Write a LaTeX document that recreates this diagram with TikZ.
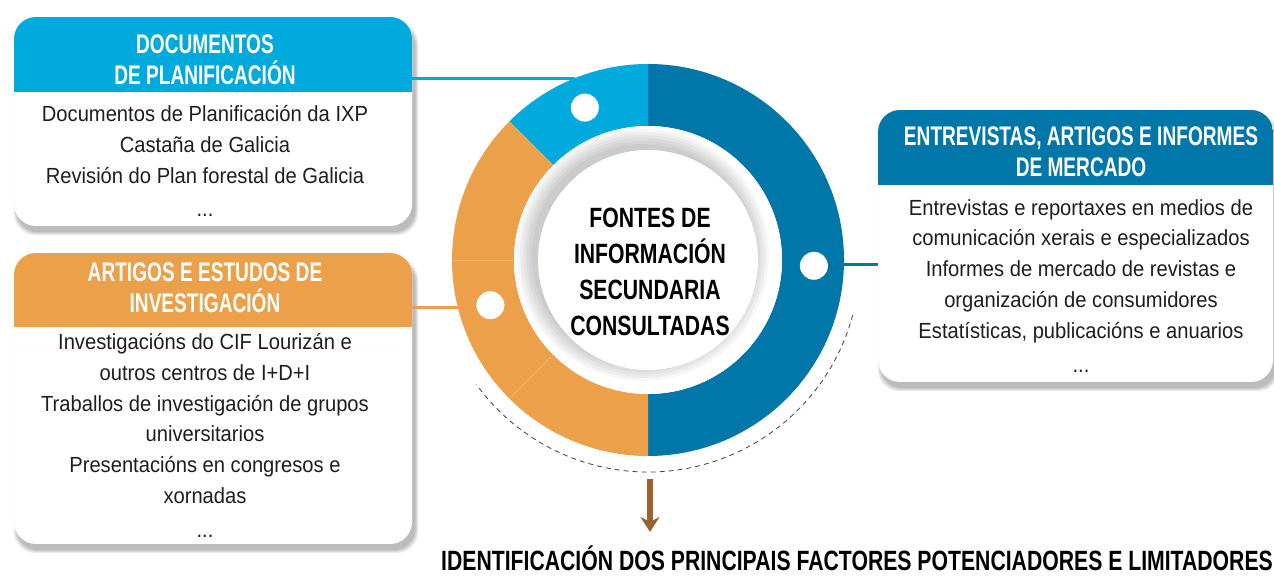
\documentclass[tikz,border=0pt]{standalone}
\usepackage{fontspec}
\setmainfont{Liberation Sans}
\newfontfamily\bodyfont{Liberation Sans}[FakeStretch=0.92]
\newfontfamily\headfont{Liberation Sans}[FakeStretch=0.71]
\newfontfamily\titfont{Liberation Sans}[FakeStretch=0.76]
\usetikzlibrary{arrows.meta,calc}

\definecolor{azul}{HTML}{00AADC}
\definecolor{azulosc}{HTML}{0077A8}
\definecolor{laranxa}{HTML}{ECA04A}
\definecolor{marron}{HTML}{9A6131}
\definecolor{texto}{HTML}{1E1E1E}

\tikzset{
  cabeza/.style={text=white, font=\headfont\bfseries\fontsize{27}{31}\selectfont, align=center, inner sep=0pt},
  corpo/.style={text=texto, font=\bodyfont\fontsize{22}{31}\selectfont, align=center, inner sep=0pt},
  punto/.style={circle, fill=white, minimum size=28bp, inner sep=0pt},
  ligazon/.style={line width=3bp},
}

% caixa: nome, x1, y1, x2, y2, y da cabeceira, cor
\newcommand\caixa[7]{%
  \foreach \s in {0,...,7}
    \fill[black,opacity=0.035,rounded corners=22bp] (#2+3-\s/2,#3-6-\s/2) rectangle (#4+3+\s/2,#5-8+\s/2);
  \node[fill=white, rounded corners=22bp, outer sep=0pt, inner sep=0pt,
        minimum width={(#4-#2)*1bp}, minimum height={(#5-#3)*1bp}] (#1) at ({(#2+#4)/2},{(#3+#5)/2}) {};
  \begin{scope}
    \clip[rounded corners=22bp] (#1.south west) rectangle (#1.north east);
    \fill[#7] (#2,#6) rectangle (#4,#5);
  \end{scope}
}

\begin{document}
\begin{tikzpicture}[x=1bp,y=1bp]
  \def\Ro{196}
  \def\Ri{134}
  \useasboundingbox[fill=white] (0,0) rectangle (1274,576);

  % caixas
  \caixa{docs}{14}{350}{412}{559}{484}{azul}
  \caixa{art}{14}{32}{412}{323}{249}{laranxa}
  \caixa{ent}{878}{194}{1273}{466}{391}{azulosc}

  \node[cabeza] (docsh) at (205,516) {DOCUMENTOS\\DE PLANIFICACIÓN};
  \node[corpo, anchor=north] (docsb) at (205,471) {Documentos de Planificación da IXP\\Castaña de Galicia\\Revisión do Plan forestal de Galicia\\[3bp]...};

  \node[cabeza] (arth) at (205,288) {ARTIGOS E ESTUDOS DE\\INVESTIGACIÓN};
  \node[corpo, anchor=north] (artb) at (205,243) {Investigacións do CIF Lourizán e\\outros centros de I+D+I\\Traballos de investigación de grupos\\universitarios\\Presentacións en congresos e\\xornadas\\[3bp]...};

  \node[cabeza] (enth) at (1081,424) {ENTREVISTAS, ARTIGOS E INFORMES\\DE MERCADO};
  \node[corpo, anchor=north] (entb) at (1081,377) {Entrevistas e reportaxes en medios de\\comunicación xerais e especializados\\Informes de mercado de revistas e\\organización de consumidores\\Estatísticas, publicacións e anuarios\\[3bp]...};

  % anel central
  \coordinate (C) at (648,316);
  \coordinate (adoc) at ($(C)+(111.8:\Ro)$);
  \coordinate (aart) at ($(C)+(193.9:\Ro)$);
  \coordinate (aent) at ($(C)+(-1.2:\Ro)$);
  \draw[ligazon, azul] (adoc -| docs.east) -- (adoc);
  \draw[ligazon, laranxa] (aart -| art.east) -- (aart);
  \draw[ligazon, azulosc] (aent) -- (aent -| ent.west);

  \fill[azulosc] ($(C)+(90:\Ro)$) arc (90:-90:\Ro) -- ($(C)+(-90:\Ri)$) arc (-90:90:\Ri) -- cycle;
  \fill[azul] ($(C)+(90:\Ro)$) arc (90:135:\Ro) -- ($(C)+(135:\Ri)$) arc (135:90:\Ri) -- cycle;
  \fill[laranxa] ($(C)+(135:\Ro)$) arc (135:270:\Ro) -- ($(C)+(270:\Ri)$) arc (270:135:\Ri) -- cycle;
  \draw[laranxa!80!white, line width=0.6bp] ($(C)+(180:\Ri)$) -- ($(C)+(180:\Ro)$);
  \draw[laranxa!80!white, line width=0.6bp] ($(C)+(225:\Ri)$) -- ($(C)+(225:\Ro)$);

  \fill[white] (C) circle (\Ri);
  \foreach \r in {126,123,...,111}
    \fill[black,opacity=0.035] ($(C)+(-5,5)$) circle (\r);
  \fill[white] (C) circle (110);

  \node[punto] (pdoc) at ($(C)+(112.5:165)$) {};
  \node[punto] (pent) at ($(C)+(-2:166)$) {};
  \node[punto] (part) at ($(C)+(196:164)$) {};

  \node[font=\titfont\bfseries\fontsize{28}{36}\selectfont, align=center, inner sep=0pt] (centro) at (650,304)
    {FONTES DE\\INFORMACIÓN\\SECUNDARIA\\CONSULTADAS};

  \draw[black!75, line width=0.8bp, dash pattern=on 5bp off 4bp] ($(C)+(-15:212)$) arc (-15:-144:212);

  % conclusion
  \node[font=\titfont\bfseries\fontsize{28}{30}\selectfont, inner sep=0pt, anchor=base] (fim) at (857,5)
    {IDENTIFICACIÓN DOS PRINCIPAIS FACTORES POTENCIADORES E LIMITADORES};
  \coordinate (saida) at (650,97);
  \draw[-{Stealth[length=15bp, width=19bp, inset=5bp]}, marron, line width=5.5bp] (saida) -- (saida |- 0,44);
\end{tikzpicture}
\end{document}
